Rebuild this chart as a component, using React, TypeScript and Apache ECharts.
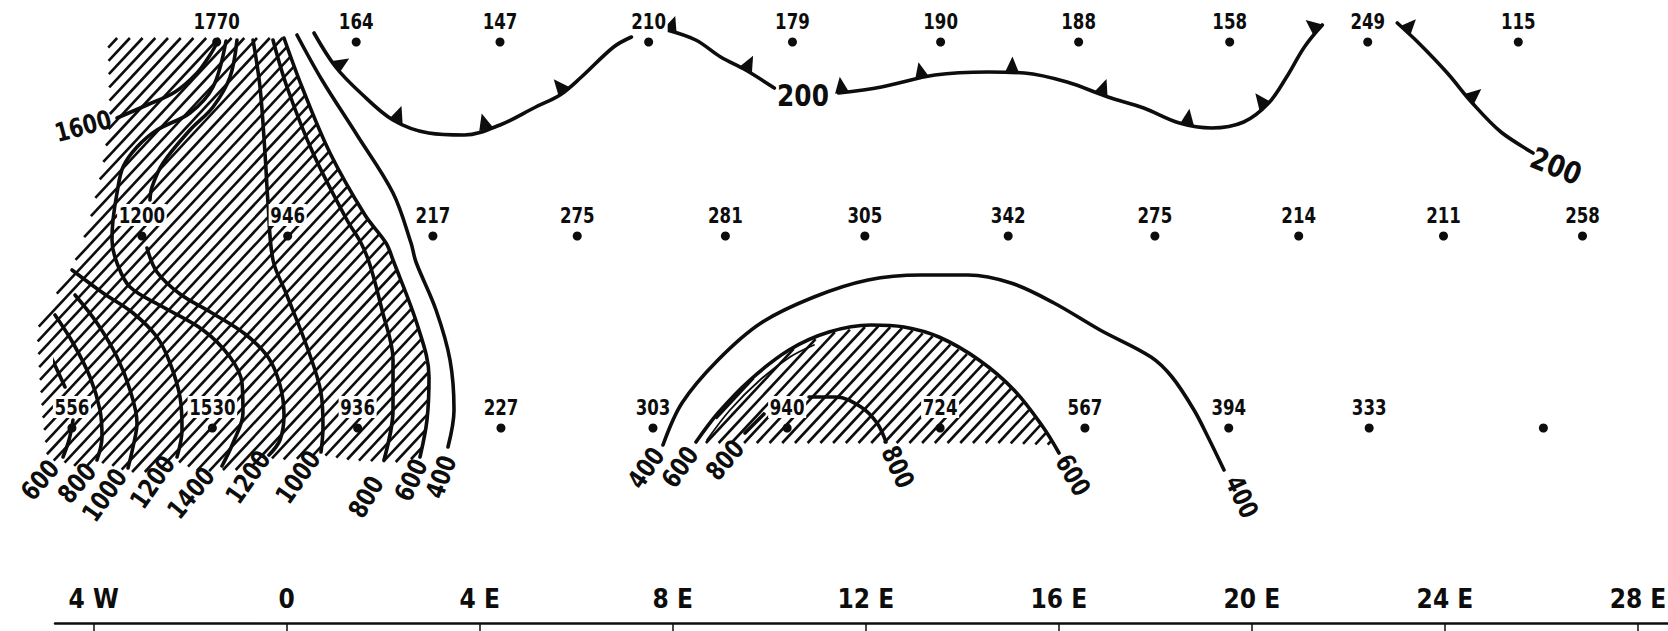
import React, { useEffect, useRef } from 'react';
import * as echarts from 'echarts';

const INK = '#0d0d0d';
const FONT = "'Liberation Sans Narrow', 'DejaVu Sans Condensed', 'Liberation Sans', sans-serif";

// x axis: longitude (negative = W); y axis: map northing (0 at top)
const tickLons = [-4, 0, 4, 8, 12, 16, 20, 24, 28];
const tickLabels = ['4 W', '0', '4 E', '8 E', '12 E', '16 E', '20 E', '24 E', '28 E'];

// stations, three rows
const northRowLon = [-1.45, 1.44, 4.42, 7.5, 10.48, 13.55, 16.41, 19.54, 22.4, 25.52];
const northRowVal = ['1770', '164', '147', '210', '179', '190', '188', '158', '249', '115'];
const northRowY = 42;
const midRowLon = [-3.0, 0.02, 3.03, 6.02, 9.09, 11.98, 14.95, 17.99, 20.97, 23.97, 26.85];
const midRowVal = ['1200', '946', '217', '275', '281', '305', '342', '275', '214', '211', '258'];
const midRowY = 236;
const southRowLon = [-4.45, -1.54, 1.47, 4.44, 7.59, 10.37, 13.54, 16.54, 19.52, 22.43, 26.04];
const southRowVal = ['556', '1530', '936', '227', '303', '940', '724', '567', '394', '333', ''];
const southRowY = 428;

// 200 line (front with barbs), four pieces
const front200A = [[0.566, 33], [1.015, 67], [1.533, 93], [2.201, 120], [2.94, 133], [3.68, 135], [4.42, 125], [5.16, 107], [5.663, 95], [6.107, 77], [6.774, 47], [7.143, 37]];
const front200B = [[7.88, 30], [8.475, 40], [8.993, 57], [9.511, 70], [10.104, 88]];
const front200C = [[11.436, 93], [12.323, 87], [13.433, 75], [14.544, 72], [15.284, 73], [16.169, 82], [17.018, 97], [17.758, 108], [18.498, 123], [19.165, 128], [19.83, 122], [20.348, 103], [20.719, 77], [21.088, 47], [21.459, 25]];
const front200D = [[23.013, 23], [23.456, 43], [24.049, 73], [24.567, 103], [25.16, 132], [25.825, 153]];
const frontBarbs = [[1.015, 67], [2.265, 121], [4.13, 129], [5.746, 91.6], [7.942, 31], [9.511, 70], [11.506, 92.7], [13.164, 77.8], [15.029, 72.5], [16.873, 94.1], [18.655, 124.5], [20.272, 106], [21.37, 30], [23.172, 31], [24.499, 99.3]];

// western isolines
const iso1600 = [[-3.516, 118], [-2.895, 105], [-2.315, 92], [-1.859, 73], [-1.589, 55], [-1.444, 43]];
const iso1400 = [[-1.258, 41], [-1.527, 87], [-2.004, 113], [-2.688, 130], [-3.102, 147], [-3.392, 167], [-3.516, 193], [-3.599, 220], [-3.62, 240], [-3.516, 263], [-3.247, 287], [-2.563, 307], [-1.734, 330], [-1.175, 357], [-0.926, 383], [-0.906, 413], [-1.113, 443], [-1.341, 466]];
const iso1200eUpper = [[-1.03, 40], [-1.175, 77], [-1.527, 107], [-2.004, 130], [-2.563, 163], [-2.791, 187], [-2.833, 200]];
const iso1200eLower = [[-2.895, 248], [-2.688, 272], [-2.211, 294], [-1.548, 313], [-0.864, 334], [-0.387, 357], [-0.139, 385], [-0.056, 415], [-0.139, 440], [-0.367, 455]];
const iso1000e = [[-0.698, 40], [-0.553, 87], [-0.45, 153], [-0.387, 203], [-0.284, 260], [-0.015, 293], [0.421, 347], [0.711, 393], [0.752, 427], [0.711, 452]];
const iso800e = [[-0.284, 40], [0.006, 87], [0.545, 153], [1.249, 220], [1.54, 243], [1.726, 265], [1.975, 310], [2.203, 360], [2.203, 410], [2.016, 460]];
const iso600e = [[-0.056, 38], [0.317, 87], [0.897, 153], [1.622, 215], [2.058, 243], [2.203, 260], [2.721, 327], [2.949, 377], [2.907, 420], [2.762, 457]];
const iso400w = [[0.213, 35], [0.731, 80], [1.457, 135], [2.203, 193], [2.576, 243], [2.679, 262], [3.094, 310], [3.384, 360], [3.467, 410], [3.342, 447]];
const iso1200w = [[-4.449, 270], [-3.806, 293], [-3.185, 313], [-2.688, 337], [-2.418, 363], [-2.211, 397], [-2.169, 430], [-2.273, 457]];
const iso1000w = [[-4.387, 295], [-3.931, 323], [-3.516, 357], [-3.247, 390], [-3.102, 423], [-3.185, 447], [-3.288, 468]];
const iso800w = [[-4.801, 315], [-4.428, 343], [-4.076, 377], [-3.869, 410], [-3.827, 437], [-3.931, 460]];
const iso600wUpper = [[-5.174, 330], [-4.905, 355], [-4.594, 387]];
const iso600wLower = [[-4.428, 420], [-4.511, 440], [-4.635, 457]];

// central isolines
const iso400c = [[7.797, 445], [8.191, 403], [8.937, 360], [9.828, 323], [10.926, 297], [12.045, 280], [13.143, 275], [14.117, 275], [15.008, 283], [15.899, 303], [16.853, 330], [17.909, 357], [18.345, 377], [18.8, 410], [19.09, 437], [19.422, 470]];
const iso600c = [[8.481, 442], [8.937, 413], [9.6, 380], [10.408, 350], [11.237, 332], [12.107, 325], [12.791, 327], [13.516, 337], [14.345, 360], [15.07, 390], [15.671, 427], [16.003, 453]];
const iso800c = [[10.823, 397], [11.382, 397], [11.9, 407], [12.232, 423], [12.418, 442]];
const iso800cStub = [[9.497, 433], [9.89, 414]];
const iso600cInner = [[8.709, 440], [9.186, 410], [9.807, 380], [10.429, 357], [10.926, 345]];

// hatched areas (outlines)
const hatchWest = [[-3.703, 38], [-0.056, 38], [0.317, 87], [0.897, 153], [1.622, 215], [2.058, 243], [2.203, 260], [2.721, 327], [2.949, 377], [2.907, 420], [2.762, 457], [2.349, 462], [2.016, 462], [1.312, 460], [0.731, 455], [0.068, 460], [-0.387, 458], [-0.864, 470], [-1.341, 470], [-1.797, 472], [-2.252, 462], [-2.833, 472], [-3.288, 472], [-3.661, 465], [-3.931, 462], [-4.283, 468], [-4.635, 462], [-4.905, 460], [-4.967, 455], [-5.05, 420], [-5.112, 380], [-5.174, 330], [-4.905, 305], [-4.532, 275], [-4.325, 255], [-4.076, 220], [-3.827, 170], [-3.661, 120]];
const hatchCentre = [[8.668, 443], [8.937, 414], [9.6, 381], [10.408, 351], [11.237, 333], [12.107, 326], [12.791, 328], [13.516, 338], [14.345, 361], [15.07, 391], [15.671, 428], [15.92, 445], [14.78, 443], [12.708, 443], [10.636, 443]];

// isoline labels
const isoLabelText = ['1600', '200', '200', '600', '800', '1000', '1200', '1400', '1200', '1000', '800', '600', '400', '400', '600', '800', '800', '600', '400'];
const isoLabelLon = [-4.221, 10.698, 26.302, -5.112, -4.345, -3.775, -2.781, -1.983, -0.802, 0.234, 1.643, 2.576, 3.197, 7.445, 8.15, 9.082, 12.667, 16.293, 19.795];
const isoLabelY = [126, 96, 166, 480, 483, 495, 482, 493, 477, 477, 497, 480, 477, 468, 467, 460, 467, 475, 497];
const isoLabelRot = [15, 0, -22, 50, 50, 55, 55, 50, 55, 55, 60, 65, 70, 55, 55, 50, -65, -60, -65];

const isolines = [iso1600, iso1400, iso1200eUpper, iso1200eLower, iso1000e, iso800e, iso600e, iso400w, iso1200w, iso1000w, iso800w, iso600wUpper, iso600wLower, iso400c, iso600c, iso800c, iso800cStub];
const frontLines = [front200A, front200B, front200C, front200D];

function hatchSegments(poly: number[][], gap: number, angleDeg: number) {
  const a = (angleDeg * Math.PI) / 180;
  const dx = Math.cos(a), dy = -Math.sin(a);
  const nx = Math.sin(a), ny = Math.cos(a);
  const S = poly.map((p) => p[0] * nx + p[1] * ny);
  const T = poly.map((p) => p[0] * dx + p[1] * dy);
  const sMin = Math.min(...S), sMax = Math.max(...S);
  const out: number[][][] = [];
  for (let s = Math.ceil(sMin / gap) * gap; s <= sMax; s += gap) {
    const ts: number[] = [];
    for (let i = 0; i < poly.length; i++) {
      const j = (i + 1) % poly.length;
      const s1 = S[i], s2 = S[j];
      if ((s1 <= s && s2 > s) || (s2 <= s && s1 > s)) {
        const f = (s - s1) / (s2 - s1);
        ts.push(T[i] + f * (T[j] - T[i]));
      }
    }
    ts.sort((u, v) => u - v);
    for (let k = 0; k + 1 < ts.length; k += 2) {
      out.push([
        [s * nx + ts[k] * dx, s * ny + ts[k] * dy],
        [s * nx + ts[k + 1] * dx, s * ny + ts[k + 1] * dy],
      ]);
    }
  }
  return out;
}

function lineSeries(pts: number[][], width = 3.5) {
  return {
    type: 'line',
    data: pts,
    symbol: 'none',
    showSymbol: false,
    smooth: 0.35,
    clip: false,
    silent: true,
    z: 3,
    lineStyle: { color: INK, width, cap: 'round', join: 'round', opacity: 1 },
  };
}

function buildOption() {
  const stationPos = [
    ...northRowLon.map((lon) => [lon, northRowY]),
    ...midRowLon.map((lon) => [lon, midRowY]),
    ...southRowLon.map((lon) => [lon, southRowY]),
  ];
  const stationText = [...northRowVal, ...midRowVal, ...southRowVal];
  const isoPos = isoLabelLon.map((lon, i) => [lon, isoLabelY[i]]);

  return {
    animation: false,
    backgroundColor: '#ffffff',
    grid: { left: 55, right: 0, top: 0, bottom: 8, containLabel: false, outerBoundsMode: 'none' },
    xAxis: {
      type: 'value',
      position: 'bottom',
      min: -4.801,
      max: 28.622,
      splitLine: { show: false },
      axisLine: { show: true, onZero: false, lineStyle: { color: INK, width: 2.5 } },
      axisTick: { show: true, customValues: tickLons, length: 8, lineStyle: { color: INK, width: 1.5 } },
      axisLabel: {
        show: true,
        customValues: tickLons,
        inside: true,
        margin: 11,
        color: INK,
        fontFamily: FONT,
        fontWeight: 'bold',
        fontSize: 26,
        formatter: (v: number) => {
          const i = tickLons.findIndex((t) => Math.abs(t - v) < 1e-6);
          return i >= 0 ? tickLabels[i] : '';
        },
      },
    },
    yAxis: { type: 'value', min: 0, max: 623, inverse: true, show: false },
    series: [
      {
        type: 'custom',
        coordinateSystem: 'cartesian2d',
        clip: false,
        silent: true,
        z: 1,
        data: [[0, 0]],
        renderItem: (_params: any, api: any) => {
          const children: any[] = [];
          [hatchWest, hatchCentre].forEach((poly) => {
            const px = poly.map((p) => api.coord(p));
            hatchSegments(px, 9.3, 47).forEach(([a, b]) => {
              children.push({
                type: 'line',
                shape: { x1: a[0], y1: a[1], x2: b[0], y2: b[1] },
                style: { stroke: INK, lineWidth: 2.6 },
              });
            });
          });
          return { type: 'group', children };
        },
      },
      ...isolines.map((pts) => lineSeries(pts, 3.6)),
      lineSeries(iso600cInner, 1.8),
      ...frontLines.map((pts) => lineSeries(pts, 3.6)),
      {
        type: 'custom',
        coordinateSystem: 'cartesian2d',
        clip: false,
        silent: true,
        z: 4,
        data: frontBarbs,
        renderItem: (_params: any, api: any) => {
          const p = api.coord([api.value(0), api.value(1)]);
          let best = Infinity, tx = 1, ty = 0;
          frontLines.forEach((seg) => {
            const q = seg.map((v) => api.coord(v));
            for (let i = 0; i < q.length - 1; i++) {
              const ax = q[i][0], ay = q[i][1];
              const vx = q[i + 1][0] - ax, vy = q[i + 1][1] - ay;
              const L2 = vx * vx + vy * vy;
              let f = ((p[0] - ax) * vx + (p[1] - ay) * vy) / L2;
              f = Math.max(0, Math.min(1, f));
              const cx = ax + f * vx, cy = ay + f * vy;
              const d = (p[0] - cx) ** 2 + (p[1] - cy) ** 2;
              if (d < best) {
                best = d;
                const L = Math.sqrt(L2);
                tx = vx / L;
                ty = vy / L;
              }
            }
          });
          let nx = ty, ny = -tx;
          if (ny > 0) { nx = -nx; ny = -ny; }
          const half = 7, h = 16;
          return {
            type: 'polygon',
            shape: {
              points: [
                [p[0] - tx * half, p[1] - ty * half],
                [p[0] + tx * half, p[1] + ty * half],
                [p[0] + nx * h, p[1] + ny * h],
              ],
            },
            style: { fill: INK },
          };
        },
      },
      {
        type: 'custom',
        coordinateSystem: 'cartesian2d',
        clip: false,
        silent: true,
        z: 5,
        data: stationPos,
        renderItem: (params: any, api: any) => {
          const p = api.coord([api.value(0), api.value(1)]);
          const t = stationText[params.dataIndex];
          if (!t) return { type: 'group', children: [] };
          return {
            type: 'text',
            x: p[0],
            y: p[1] - 21,
            scaleX: 0.84,
            style: {
              text: t,
              fill: INK,
              font: `bold 22px ${FONT}`,
              align: 'center',
              verticalAlign: 'middle',
              backgroundColor: '#ffffff',
              padding: [0, 2, 0, 2],
            },
          };
        },
      },
      {
        type: 'scatter',
        data: stationPos,
        symbol: 'circle',
        symbolSize: 9,
        clip: false,
        silent: true,
        z: 6,
        itemStyle: { color: INK, opacity: 1 },
      },
      {
        type: 'custom',
        coordinateSystem: 'cartesian2d',
        clip: false,
        silent: true,
        z: 6,
        data: isoPos,
        renderItem: (params: any, api: any) => {
          const p = api.coord([api.value(0), api.value(1)]);
          const i = params.dataIndex;
          const t = isoLabelText[i];
          const big = t === '200';
          return {
            type: 'text',
            x: p[0],
            y: p[1],
            rotation: (isoLabelRot[i] * Math.PI) / 180,
            scaleX: big ? 0.92 : 0.88,
            style: {
              text: t,
              fill: INK,
              font: `bold ${big ? 30 : 26}px ${FONT}`,
              align: 'center',
              verticalAlign: 'middle',
            },
          };
        },
      },
    ],
  };
}

export default function App() {
  const ref = useRef<HTMLDivElement>(null);
  useEffect(() => {
    if (!ref.current) return;
    const chart = echarts.init(ref.current, null, { renderer: 'svg' });
    chart.setOption(buildOption() as any);
    return () => chart.dispose();
  }, []);
  return (
    <div
      ref={ref}
      style={{ position: 'fixed', left: 0, top: 0, width: 1668, height: 631, background: '#ffffff' }}
    />
  );
}
